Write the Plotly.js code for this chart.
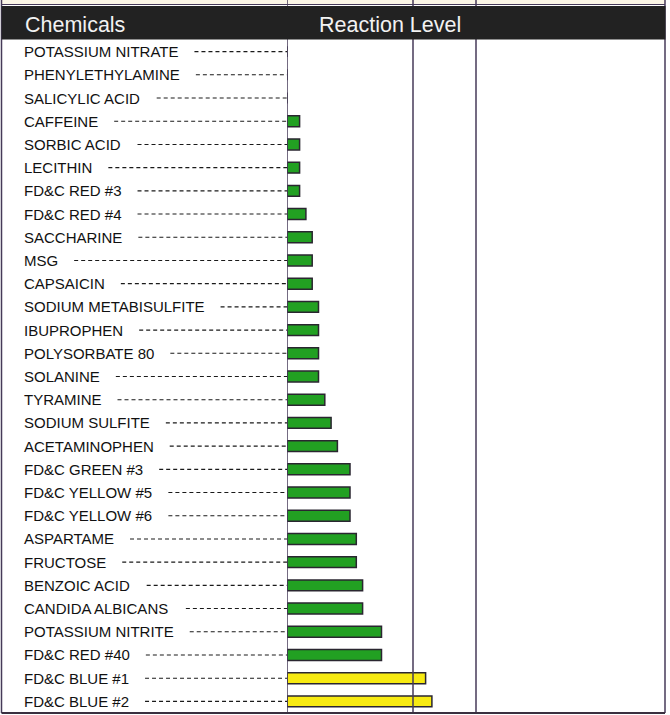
<!DOCTYPE html>
<html>
<head>
<meta charset="utf-8">
<script src="https://cdn.plot.ly/plotly-3.0.1.min.js"></script>
<style>html,body{margin:0;padding:0;background:#fff;}#chart{width:670px;height:715px;}</style>
</head>
<body>
<div id="chart"></div>
<script>
// ---- data ----
var chemicals = [
  "POTASSIUM NITRATE","PHENYLETHYLAMINE","SALICYLIC ACID","CAFFEINE","SORBIC ACID",
  "LECITHIN","FD&C RED #3","FD&C RED #4","SACCHARINE","MSG","CAPSAICIN",
  "SODIUM METABISULFITE","IBUPROPHEN","POLYSORBATE 80","SOLANINE","TYRAMINE",
  "SODIUM SULFITE","ACETAMINOPHEN","FD&C GREEN #3","FD&C YELLOW #5","FD&C YELLOW #6",
  "ASPARTAME","FRUCTOSE","BENZOIC ACID","CANDIDA ALBICANS","POTASSIUM NITRITE",
  "FD&C RED #40","FD&C BLUE #1","FD&C BLUE #2"
];
var reactionLevel = [0,0,0,2,2,2,2,3,4,4,4,5,5,5,5,6,7,8,10,10,10,11,11,12,12,15,15,22,23];
var levelLines = [0,20,30];
var levelMax = 60;
var highThreshold = 20;
var headerLeft = "Chemicals";
var headerRight = "Reaction Level";

// ---- layout helpers ----
var W = 670, H = 715;
function px(x){ return x / W; }
function py(y){ return 1 - y / H; }
var labelFont = '"Liberation Sans", Arial, sans-serif';
var labelSize = 15;
var canvas = document.createElement('canvas');
var ctx = canvas.getContext('2d');
ctx.font = labelSize + 'px "Liberation Sans", Arial, sans-serif';

var green = '#22a022', yellow = '#f7ea12';
var barColors = reactionLevel.map(function(v){ return v >= highThreshold ? yellow : green; });

// label column in pixel units: xaxis2 range [0,285] over domain 2..287
var labelX = 20, leaderEnd = 285, leaderGap = 18;
var lx = [], ly = [];
chemicals.forEach(function(c){
  var w = ctx.measureText(c).width;
  lx.push(labelX + w + leaderGap, leaderEnd, null);
  ly.push(c, c, null);
});

var traces = [
  {
    type: 'scatter', mode: 'lines', x: lx, y: ly, xaxis: 'x2', yaxis: 'y',
    line: {color: '#1a1a1a', width: 1.1, dash: '4px,3px'}, hoverinfo: 'skip', showlegend: false
  },
  {
    type: 'bar', orientation: 'h', x: reactionLevel, y: chemicals, xaxis: 'x', yaxis: 'y',
    width: 0.47,
    marker: {color: barColors, line: {color: '#2a2630', width: 1.5}},
    showlegend: false
  }
];

var annotations = chemicals.map(function(c){
  return {xref: 'x2', yref: 'y', x: labelX, y: c, text: c.replace(/&/g,'&amp;'), showarrow: false,
    xanchor: 'left', yanchor: 'middle', font: {family: labelFont, size: labelSize, color: '#111'}};
});
var headFont = {family: '"Liberation Sans", Arial, sans-serif', size: 21.5, color: '#f2f2f2'};
annotations.push({xref: 'paper', yref: 'paper', x: px(23), y: py(24.5), text: headerLeft, showarrow: false,
  xanchor: 'left', yanchor: 'middle', font: headFont});
annotations.push({xref: 'paper', yref: 'paper', x: px(317), y: py(24.5), text: headerRight, showarrow: false,
  xanchor: 'left', yanchor: 'middle', font: headFont});

var lineColor = '#463a58';
var shapes = [];
// faint top strip
shapes.push({type: 'rect', xref: 'paper', yref: 'paper', x0: px(1.5), x1: px(665), y0: py(4.5), y1: 1,
  fillcolor: '#fbf6e6', line: {width: 0}, layer: 'below'});
levelLines.forEach(function(v){
  shapes.push({type: 'line', xref: 'x', yref: 'paper', x0: v, x1: v, y0: py(713), y1: 1,
    line: {color: lineColor, width: 1.5}, layer: 'above'});
});
// frame
shapes.push({type: 'line', xref: 'paper', yref: 'paper', x0: px(1.5), x1: px(1.5), y0: py(713), y1: 1, line: {color: lineColor, width: 1.5}});
shapes.push({type: 'line', xref: 'paper', yref: 'paper', x0: px(665), x1: px(665), y0: py(713), y1: 1, line: {color: lineColor, width: 1.5}});
shapes.push({type: 'line', xref: 'paper', yref: 'paper', x0: px(1.5), x1: px(665), y0: py(713), y1: py(713), line: {color: '#3a3040', width: 2}});
shapes.push({type: 'line', xref: 'paper', yref: 'paper', x0: px(1.5), x1: px(665), y0: py(4.5), y1: py(4.5), line: {color: lineColor, width: 1.2}});
// header bar
shapes.push({type: 'rect', xref: 'paper', yref: 'paper', x0: px(1.5), x1: px(665.5), y0: py(39.5), y1: py(6),
  fillcolor: '#222222', line: {width: 0}, layer: 'above'});

var layout = {
  width: W, height: H, autosize: false,
  margin: {l: 0, r: 0, t: 0, b: 0, pad: 0},
  paper_bgcolor: '#ffffff', plot_bgcolor: 'rgba(0,0,0,0)',
  showlegend: false,
  xaxis: {domain: [px(287), px(665)], range: [0, levelMax], showgrid: false, zeroline: false,
    showticklabels: false, ticks: '', showline: false, anchor: 'y', fixedrange: true},
  xaxis2: {domain: [px(2), px(287)], range: [0, 285], showgrid: false, zeroline: false,
    showticklabels: false, ticks: '', showline: false, anchor: 'y', fixedrange: true},
  yaxis: {domain: [py(713), py(40)], type: 'category', categoryorder: 'array', categoryarray: chemicals,
    range: [chemicals.length - 0.5, -0.5], showgrid: false, zeroline: false, showticklabels: false,
    ticks: '', showline: false, anchor: 'x', fixedrange: true},
  shapes: shapes,
  annotations: annotations,
  bargap: 0.5
};

Plotly.newPlot('chart', traces, layout, {displayModeBar: false, staticPlot: true});
</script>
</body>
</html>
